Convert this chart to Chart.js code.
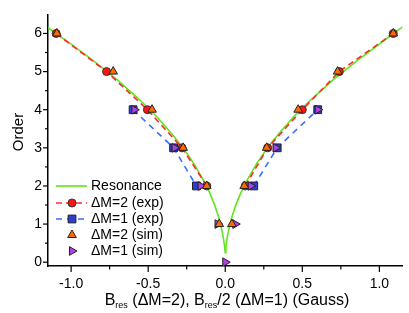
<!DOCTYPE html>
<html>
<head>
<meta charset="utf-8">
<script src="https://cdn.jsdelivr.net/npm/chart.js@4.4.1/dist/chart.umd.min.js"></script>
<style>
  html, body { margin: 0; padding: 0; background: #fff; }
  #wrap { width: 409px; height: 313px; }
</style>
</head>
<body>
<div id="wrap"><canvas id="chart" width="409" height="313"></canvas></div>
<script>
// resonance curve
const resonanceB = [-1.15, -1.00, -0.85, -0.70, -0.55, -0.45, -0.35, -0.27, -0.20, -0.14, -0.10, -0.07, -0.045, -0.025, -0.012, -0.004, 0,
                    0.004, 0.012, 0.025, 0.045, 0.07, 0.10, 0.14, 0.20, 0.27, 0.35, 0.45, 0.55, 0.70, 0.85, 1.00, 1.15];
const resonanceOrder = [6.15, 5.72, 5.27, 4.78, 4.24, 3.84, 3.38, 2.98, 2.56, 2.14, 1.81, 1.51, 1.21, 0.90, 0.63, 0.40, 0.25,
                        0.40, 0.63, 0.90, 1.21, 1.51, 1.81, 2.14, 2.56, 2.98, 3.38, 3.84, 4.24, 4.78, 5.27, 5.72, 6.17];

// measured, null = break between the two branches
const dm2ExpB = [-1.097, -0.77, -0.505, -0.28, -0.12, null, 0.13, 0.275, 0.50, 0.74, 1.09];
const dm2ExpOrder = [6, 5, 4, 3, 2, null, 2, 3, 4, 5, 6];
const dm1ExpB = [-0.598, -0.335, -0.187, null, 0.185, 0.337, 0.60];
const dm1ExpOrder = [4, 3, 2, null, 2, 3, 4];

// simulated
const dm2SimB = [-1.093, -0.727, -0.475, -0.273, -0.12, -0.039, 0.043, 0.123, 0.269, 0.473, 0.729, 1.09];
const dm2SimOrder = [6, 5, 4, 3, 2, 1, 1, 2, 3, 4, 5, 6];
const dm1SimB = [-0.59, -0.329, -0.16, -0.05, 0, 0.065, 0.165, 0.327, 0.60];
const dm1SimOrder = [4, 3, 2, 1, 0, 1, 2, 3, 4];

const xTicks = [-1.0, -0.5, 0.0, 0.5, 1.0];
const xMinor = [-0.75, -0.25, 0.25, 0.75];
const yTicks = [0, 1, 2, 3, 4, 5, 6];
const yMinor = [0.5, 1.5, 2.5, 3.5, 4.5, 5.5];

const legendLabels = ['Resonance', 'ΔM=2 (exp)', 'ΔM=1 (exp)', 'ΔM=2 (sim)', 'ΔM=1 (sim)'];

const pts = (xs, ys) => xs.map((v, i) => ({x: v, y: ys[i]}));
const FONT = '"Liberation Sans", Arial, sans-serif';

const datasets = [
  {label: legendLabels[0], data: pts(resonanceB, resonanceOrder), showLine: true, borderColor: '#5fe61e',
   borderWidth: 1.6, pointRadius: 0, order: 5},
  {label: legendLabels[1], data: pts(dm2ExpB, dm2ExpOrder), showLine: true, borderColor: '#ff2a2a', borderWidth: 1.6,
   borderDash: [6, 4], pointStyle: 'circle', pointRadius: 4, backgroundColor: '#ff1414',
   pointBorderColor: '#333', pointBorderWidth: 1, order: 4},
  {label: legendLabels[2], data: pts(dm1ExpB, dm1ExpOrder), showLine: true, borderColor: '#3a6cff', borderWidth: 1.6,
   borderDash: [6, 5], pointStyle: 'rect', pointRadius: 5.5, backgroundColor: '#2b3ed2',
   pointBorderColor: '#222', pointBorderWidth: 1, order: 3},
  {label: legendLabels[4], data: pts(dm1SimB, dm1SimOrder), showLine: false, pointStyle: 'triangle', pointRotation: 90,
   pointRadius: 5, backgroundColor: '#b040e8', pointBorderColor: '#222', pointBorderWidth: 1, order: 2},
  {label: legendLabels[3], data: pts(dm2SimB, dm2SimOrder), showLine: false, pointStyle: 'triangle',
   pointRadius: 5, backgroundColor: '#ff6a00', pointBorderColor: '#222', pointBorderWidth: 1, order: 1}
];

const decor = {
  id: 'decor',
  afterDraw(chart) {
    const {ctx, scales: {x, y}, chartArea: a} = chart;
    ctx.save();
    ctx.strokeStyle = '#000';
    ctx.lineWidth = 1.2;
    const seg = (x1, y1, x2, y2) => { ctx.beginPath(); ctx.moveTo(x1, y1); ctx.lineTo(x2, y2); ctx.stroke(); };
    xTicks.forEach(v => { const p = x.getPixelForValue(v); seg(p, a.bottom, p, a.bottom + 6); });
    xMinor.forEach(v => { const p = x.getPixelForValue(v); seg(p, a.bottom, p, a.bottom + 3.5); });
    yTicks.forEach(v => { const p = y.getPixelForValue(v); seg(a.left, p, a.left - 5, p); });
    yMinor.forEach(v => { const p = y.getPixelForValue(v); seg(a.left, p, a.left - 3, p); });

    ctx.fillStyle = '#000';
    // y title
    ctx.save();
    ctx.translate(19, 132);
    ctx.rotate(-Math.PI / 2);
    ctx.font = '15px ' + FONT;
    ctx.textAlign = 'center';
    ctx.textBaseline = 'middle';
    ctx.fillText('Order', 0, 0);
    ctx.restore();

    // x title with subscripts
    const parts = [['B', 16, 0], ['res', 9, 3], [' (ΔM=2), B', 16, 0], ['res', 9, 3], ['/2 (ΔM=1) (Gauss)', 16, 0]];
    let total = 0;
    parts.forEach(p => { ctx.font = p[1] + 'px ' + FONT; total += ctx.measureText(p[0]).width; });
    let cx = 227 - total / 2;
    ctx.textAlign = 'left';
    ctx.textBaseline = 'alphabetic';
    parts.forEach(p => {
      ctx.font = p[1] + 'px ' + FONT;
      ctx.fillText(p[0], cx, 304.5 + p[2]);
      cx += ctx.measureText(p[0]).width;
    });

    // legend
    const rows = [186, 203, 219, 235, 251];
    const order = [0, 1, 2, 4, 3];
    ctx.font = '14px ' + FONT;
    ctx.textBaseline = 'middle';
    order.forEach((di, r) => {
      const ds = datasets[di];
      const ry = rows[r];
      if (ds.showLine) {
        ctx.save();
        ctx.strokeStyle = ds.borderColor;
        ctx.lineWidth = ds.borderWidth;
        ctx.setLineDash(ds.borderDash || []);
        seg(56, ry, 87, ry);
        ctx.restore();
      }
      if (ds.pointRadius) {
        ctx.save();
        ctx.fillStyle = ds.backgroundColor;
        ctx.strokeStyle = ds.pointBorderColor;
        ctx.lineWidth = ds.pointBorderWidth;
        Chart.helpers.drawPoint(ctx, {pointStyle: ds.pointStyle, rotation: ds.pointRotation || 0,
          radius: ds.pointRadius, borderWidth: ds.pointBorderWidth}, 72, ry);
        ctx.restore();
      }
      ctx.fillStyle = '#000';
      ctx.fillText(legendLabels[r], 91, ry + 0.5);
    });
    ctx.restore();
  }
};

new Chart(document.getElementById('chart'), {
  type: 'scatter',
  data: {datasets},
  options: {
    responsive: false,
    animation: false,
    layout: {padding: {top: 4, right: 5, left: 0, bottom: 0}},
    plugins: {legend: {display: false}, tooltip: {enabled: false}},
    scales: {
      x: {
        type: 'linear', min: -1.15, max: 1.15,
        afterFit: s => { s.height = 47; },
        afterBuildTicks: s => { s.ticks = xTicks.map(v => ({value: v})); },
        ticks: {callback: v => v.toFixed(1), color: '#000', font: {size: 14, family: FONT}, padding: 10, maxRotation: 0},
        grid: {display: false, drawTicks: false},
        border: {display: true, color: '#000', width: 1.5}
      },
      y: {
        type: 'linear', min: -0.1, max: 6.5,
        afterFit: s => { s.width = 48; },
        afterBuildTicks: s => { s.ticks = yTicks.map(v => ({value: v})); },
        ticks: {color: '#000', font: {size: 14, family: FONT}, padding: 6},
        grid: {display: false, drawTicks: false},
        border: {display: true, color: '#000', width: 1.5}
      }
    }
  },
  plugins: [decor]
});
</script>
</body>
</html>
